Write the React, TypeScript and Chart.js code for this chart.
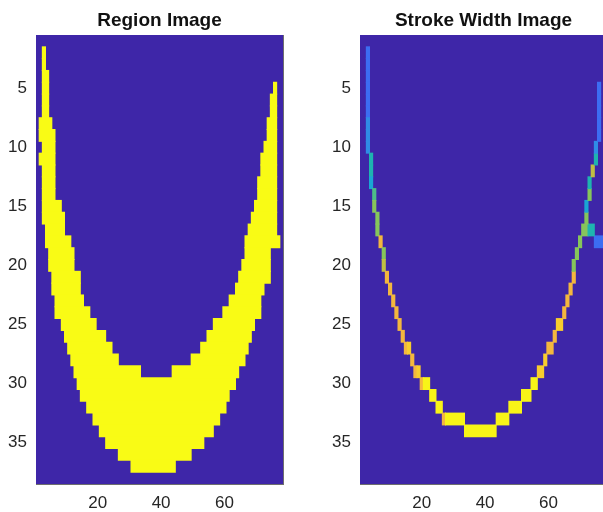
import React, { useEffect, useRef } from "react";
import Chart from "chart.js/auto";

// ---------- data ----------
const X_TICKS = [20, 40, 60];
const Y_TICKS = [5, 10, 15, 20, 25, 30, 35];
const X_RANGE = [0.5, 78.5];
const Y_RANGE = [0.5, 38.5];

// Region image: [row, firstCol, lastCol] cells equal to 1
const REGION_LEFT_ARM: number[][] = [
  [2, 3, 3], [3, 3, 3], [4, 3, 4], [5, 3, 4], [6, 3, 4], [7, 3, 4],
  [8, 2, 5], [9, 2, 6], [10, 3, 6], [11, 2, 6], [12, 3, 6], [13, 3, 6],
  [14, 3, 6], [15, 3, 8], [16, 3, 9], [17, 4, 9], [18, 4, 11], [19, 5, 12],
  [20, 5, 12], [21, 6, 14], [22, 6, 14], [23, 7, 15], [24, 7, 17], [25, 9, 19],
  [26, 10, 22], [27, 11, 24], [28, 12, 26], [29, 13, 33],
];
const REGION_RIGHT_ARM: number[][] = [
  [5, 76, 76], [6, 75, 76], [7, 75, 76], [8, 74, 76], [9, 74, 76], [10, 73, 76],
  [11, 72, 76], [12, 72, 76], [13, 71, 76], [14, 71, 76], [15, 70, 76], [16, 69, 76],
  [17, 68, 76], [18, 67, 77], [19, 67, 74], [20, 66, 74], [21, 65, 74], [22, 64, 72],
  [23, 62, 71], [24, 60, 71], [25, 57, 69], [26, 55, 68], [27, 53, 67], [28, 50, 66],
  [29, 44, 64],
];
const REGION_BOTTOM: number[][] = [
  [30, 14, 63], [31, 15, 61], [32, 17, 60], [33, 19, 58], [34, 21, 56],
  [35, 23, 53], [36, 27, 49], [37, 31, 44],
];

// Stroke width image: [row, firstCol, lastCol, strokeLevel]
const STROKE_LEFT: number[][] = [
  [2, 3, 3, 1], [3, 3, 3, 1], [4, 3, 3, 1], [5, 3, 3, 1], [6, 3, 3, 1], [7, 3, 3, 1],
  [8, 3, 3, 2], [9, 3, 3, 2], [10, 3, 3, 2], [11, 4, 4, 4], [12, 4, 4, 4], [13, 4, 4, 3],
  [14, 5, 5, 5], [15, 5, 5, 6], [16, 6, 6, 6], [17, 6, 6, 6], [18, 7, 7, 8], [19, 8, 8, 6],
  [20, 8, 8, 7], [21, 9, 9, 8], [22, 10, 10, 8], [23, 11, 11, 8], [24, 12, 12, 8],
  [25, 13, 13, 8], [26, 14, 14, 8], [27, 15, 15, 8], [27, 16, 16, 9], [28, 17, 17, 8],
  [29, 18, 18, 8], [29, 19, 19, 9], [30, 20, 20, 8], [30, 21, 22, 10], [31, 23, 24, 10],
  [32, 25, 26, 10], [33, 27, 27, 8], [33, 28, 33, 10], [34, 34, 43, 10],
];
const STROKE_RIGHT: number[][] = [
  [33, 44, 47, 10], [32, 48, 51, 10], [31, 52, 54, 10], [30, 55, 56, 10], [29, 57, 58, 9],
  [28, 59, 59, 9], [27, 60, 61, 8], [26, 62, 62, 8], [25, 63, 64, 9], [24, 65, 65, 8],
  [23, 66, 66, 8], [22, 67, 67, 8], [21, 68, 68, 8], [20, 68, 68, 6], [19, 69, 69, 6],
  [18, 70, 70, 6], [18, 75, 77, 1], [17, 71, 72, 6], [17, 73, 74, 4], [16, 72, 72, 6],
  [15, 72, 72, 3], [14, 73, 73, 6], [13, 73, 73, 4], [12, 74, 74, 7], [11, 75, 75, 4],
  [10, 75, 75, 2], [9, 76, 76, 1], [8, 76, 76, 1], [7, 76, 76, 1], [6, 76, 76, 1], [5, 76, 76, 1],
];

// ---------- styles ----------
const BG = "#3E26A8";
const REGION_ON = "#F9FB15";
const STROKE_PALETTE: Record<number, string> = {
  1: "#3C6DF2", 2: "#2F8CE6", 3: "#1AA6D4", 4: "#1EB4B0", 5: "#4DBD88",
  6: "#86C55B", 7: "#C0BF43", 8: "#F3B73E", 9: "#F8CD2E", 10: "#F8F417",
};
const FONT_FAMILY = 'Arial, "Liberation Sans", Helvetica, sans-serif';
const AXIS_COLOR = "#6e6e6e";
const LABEL_COLOR = "#262626";

const toCells = (rows: number[][]) =>
  rows.map((r) => ({ y: r[0], x: [r[1] - 0.5, r[2] + 0.5], v: r[3] ?? 1 }));

const bgPlugin = {
  id: "imgBg",
  beforeDatasetsDraw(chart: any) {
    const { ctx, chartArea: a } = chart;
    ctx.save();
    ctx.fillStyle = BG;
    ctx.fillRect(a.left, a.top, a.right - a.left, a.bottom - a.top);
    ctx.restore();
  },
};

function makeConfig(title: string, datasets: any[]) {
  const tickGrid = { display: true, offset: false, drawOnChartArea: false, drawTicks: true, tickLength: -4, color: AXIS_COLOR, lineWidth: 1 };
  const border = { display: true, color: AXIS_COLOR, width: 1 };
  const setTicks = (vals: number[]) => (s: any) => { s.ticks = vals.map((v) => ({ value: v })); };
  return {
    type: "bar",
    data: { datasets },
    options: {
      indexAxis: "y",
      animation: false,
      responsive: false,
      maintainAspectRatio: false,
      events: [],
      layout: { padding: { left: 0, right: 17, top: 0, bottom: 0 } },
      datasets: {
        bar: { grouped: false, categoryPercentage: 1, barPercentage: 1, borderWidth: 0, inflateAmount: 0.5 },
      },
      plugins: {
        legend: { display: false },
        tooltip: { enabled: false },
        title: {
          display: true,
          text: title,
          fullSize: false,
          color: "#111111",
          font: { family: FONT_FAMILY, size: 19, weight: "bold", lineHeight: 1 },
          padding: { top: 11, bottom: 5 },
        },
      },
      scales: {
        x: {
          type: "linear", position: "bottom", min: X_RANGE[0], max: X_RANGE[1], z: 1, offset: false,
          afterBuildTicks: setTicks(X_TICKS),
          afterFit: (s: any) => { s.height = 28; },
          grid: tickGrid, border,
          ticks: { padding: 13, color: LABEL_COLOR, font: { family: FONT_FAMILY, size: 17 }, maxRotation: 0, autoSkip: false },
        },
        y: {
          type: "linear", position: "left", reverse: true, min: Y_RANGE[0], max: Y_RANGE[1], z: 1, offset: false,
          afterBuildTicks: setTicks(Y_TICKS),
          afterFit: (s: any) => { s.width = 36; },
          grid: tickGrid, border,
          ticks: { padding: 13, color: LABEL_COLOR, font: { family: FONT_FAMILY, size: 17 }, autoSkip: false },
        },
        x2: {
          type: "linear", position: "top", axis: "x", min: X_RANGE[0], max: X_RANGE[1], z: 1, offset: false,
          afterBuildTicks: setTicks(X_TICKS),
          afterFit: (s: any) => { s.height = 0; },
          grid: tickGrid, border, ticks: { display: false },
        },
        y2: {
          type: "linear", position: "right", axis: "y", reverse: true, min: Y_RANGE[0], max: Y_RANGE[1], z: 1, offset: false,
          afterBuildTicks: setTicks(Y_TICKS),
          afterFit: (s: any) => { s.width = 0; },
          grid: tickGrid, border, ticks: { display: false },
        },
      },
    },
    plugins: [bgPlugin],
  } as any;
}

function ImagePlot({ left, title, datasets }: { left: number; title: string; datasets: any[] }) {
  const ref = useRef<HTMLCanvasElement | null>(null);
  useEffect(() => {
    if (!ref.current) return;
    const chart = new Chart(ref.current, makeConfig(title, datasets));
    return () => chart.destroy();
  }, []);
  return (
    <canvas
      ref={ref}
      width={300}
      height={512}
      style={{ position: "absolute", left, top: 0, width: 300, height: 512 }}
    />
  );
}

export default function App() {
  const regionColor = () => REGION_ON;
  const strokeColor = (ctx: any) => STROKE_PALETTE[ctx.raw?.v] ?? BG;
  const regionSets = [REGION_LEFT_ARM, REGION_RIGHT_ARM, REGION_BOTTOM].map((rows) => ({
    data: toCells(rows), backgroundColor: regionColor,
  }));
  const strokeSets = [STROKE_LEFT, STROKE_RIGHT].map((rows) => ({
    data: toCells(rows), backgroundColor: strokeColor,
  }));
  return (
    <div style={{ position: "fixed", left: 0, top: 0, width: 603, height: 512, overflow: "hidden", background: "#ffffff" }}>
      <ImagePlot left={0} title="Region Image" datasets={regionSets} />
      <ImagePlot left={324} title="Stroke Width Image" datasets={strokeSets} />
    </div>
  );
}
